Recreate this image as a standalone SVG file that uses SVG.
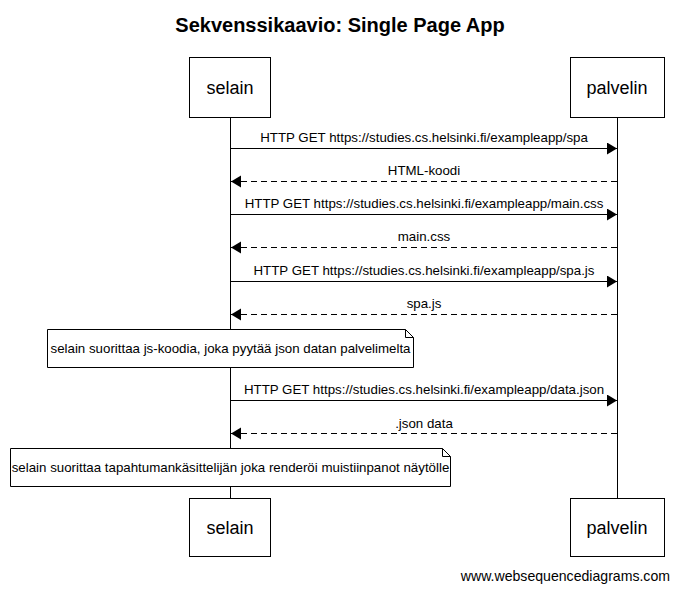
<svg xmlns="http://www.w3.org/2000/svg" width="679" height="590" viewBox="0 0 679 590">
<style>
text{font-family:"Liberation Sans",Arial,sans-serif;fill:#000}
.title{font-size:20px;font-weight:bold;text-anchor:middle}
.actor rect{fill:#fff;stroke:#000;stroke-width:1}
.actor text{font-size:18px;text-anchor:middle}
.life{stroke:#000;stroke-width:1}
.msg{stroke:#000;stroke-width:1;fill:none}
.dash{stroke-dasharray:6,4}
.lbl{font-size:13.3px;text-anchor:middle}
.note path{fill:#fff;stroke:#000;stroke-width:1}
.note text{font-size:13.3px;text-anchor:middle}
.foot{font-size:14.1px;text-anchor:end}
</style>
<defs>
<marker id="ah" markerUnits="userSpaceOnUse" markerWidth="11" markerHeight="13" refX="10" refY="6" orient="auto">
<path d="M0,0 L10,6 L0,12 Z" fill="#000"/>
</marker>
</defs>
<rect width="679" height="590" fill="#fff"/>
<text class="title" x="340" y="32">Sekvenssikaavio: Single Page App</text>
<g id="lifelines">
<line class="life" x1="230.5" y1="117" x2="230.5" y2="499"/>
<line class="life" x1="617.5" y1="117" x2="617.5" y2="499"/>
</g>
<g id="selain-top" class="actor"><rect x="189.5" y="57.5" width="81" height="60"/><text x="230" y="94">selain</text></g>
<g id="palvelin-top" class="actor"><rect x="570.5" y="57.5" width="94" height="60"/><text x="617" y="94">palvelin</text></g>
<g id="connectors">
<line class="msg" x1="230.5" y1="148.5" x2="617" y2="148.5" marker-end="url(#ah)"/>
<text class="lbl" x="424" y="142">HTTP GET https://studies.cs.helsinki.fi/exampleapp/spa</text>
<line class="msg dash" x1="617" y1="181.5" x2="231" y2="181.5" marker-end="url(#ah)"/>
<text class="lbl" x="424" y="175">HTML-koodi</text>
<line class="msg" x1="230.5" y1="214.5" x2="617" y2="214.5" marker-end="url(#ah)"/>
<text class="lbl" x="424" y="208">HTTP GET https://studies.cs.helsinki.fi/exampleapp/main.css</text>
<line class="msg dash" x1="617" y1="247.5" x2="231" y2="247.5" marker-end="url(#ah)"/>
<text class="lbl" x="424" y="241">main.css</text>
<line class="msg" x1="230.5" y1="281.5" x2="617" y2="281.5" marker-end="url(#ah)"/>
<text class="lbl" x="424" y="275">HTTP GET https://studies.cs.helsinki.fi/exampleapp/spa.js</text>
<line class="msg dash" x1="617" y1="314.5" x2="231" y2="314.5" marker-end="url(#ah)"/>
<text class="lbl" x="424" y="308">spa.js</text>
<line class="msg" x1="230.5" y1="400.5" x2="617" y2="400.5" marker-end="url(#ah)"/>
<text class="lbl" x="424" y="394">HTTP GET https://studies.cs.helsinki.fi/exampleapp/data.json</text>
<line class="msg dash" x1="617" y1="433.5" x2="231" y2="433.5" marker-end="url(#ah)"/>
<text class="lbl" x="424" y="428">.json data</text>
</g>
<g id="note1" class="note">
<path d="M47.5,329.5 H405.5 L413.5,337.5 V367.5 H47.5 Z M405.5,329.5 V337.5 H413.5"/>
<text x="230.5" y="353">selain suorittaa js-koodia, joka pyytää json datan palvelimelta</text>
</g>
<g id="note2" class="note">
<path d="M10.5,448.5 H442.5 L450.5,456.5 V486.5 H10.5 Z M442.5,448.5 V456.5 H450.5"/>
<text x="230.5" y="472">selain suorittaa tapahtumankäsittelijän joka renderöi muistiinpanot näytölle</text>
</g>
<g id="selain-bottom" class="actor"><rect x="189.5" y="498.5" width="81" height="58"/><text x="230" y="534">selain</text></g>
<g id="palvelin-bottom" class="actor"><rect x="570.5" y="498.5" width="94" height="58"/><text x="617" y="534">palvelin</text></g>
<text class="foot" x="670" y="581">www.websequencediagrams.com</text>
</svg>
